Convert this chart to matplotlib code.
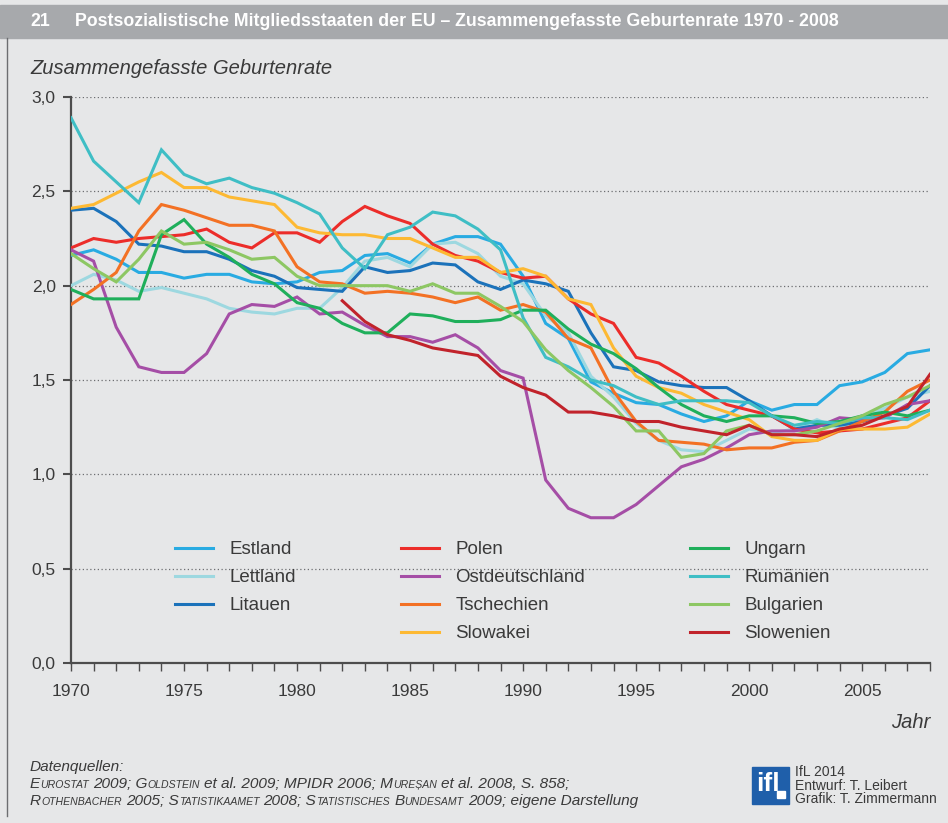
import matplotlib
matplotlib.use('Agg')
import matplotlib.pyplot as plt
import numpy as np
from matplotlib import font_manager
from matplotlib.patches import Rectangle
from matplotlib.lines import Line2D
from matplotlib.ticker import FuncFormatter

# Data: total fertility rate, 1970 - 2008
years = list(range(1970, 2009))
years_si = list(range(1982, 2009))

estland = [2.16, 2.19, 2.14, 2.07, 2.07, 2.04, 2.06, 2.06, 2.02, 2.01,
           2.02, 2.07, 2.08, 2.16, 2.17, 2.12, 2.22, 2.26, 2.26, 2.22,
           2.05, 1.80, 1.72, 1.49, 1.43, 1.38, 1.37, 1.32, 1.28, 1.31,
           1.39, 1.34, 1.37, 1.37, 1.47, 1.49, 1.54, 1.64, 1.66]
lettland = [2.00, 2.06, 2.03, 1.97, 1.99, 1.96, 1.93, 1.88, 1.86, 1.85,
            1.88, 1.88, 1.99, 2.13, 2.15, 2.10, 2.22, 2.23, 2.17, 2.05,
            2.01, 1.84, 1.75, 1.52, 1.41, 1.27, 1.18, 1.13, 1.12, 1.18,
            1.24, 1.22, 1.24, 1.29, 1.24, 1.31, 1.35, 1.41, 1.44]
litauen = [2.40, 2.41, 2.34, 2.22, 2.21, 2.18, 2.18, 2.14, 2.08, 2.05,
           1.99, 1.98, 1.97, 2.10, 2.07, 2.08, 2.12, 2.11, 2.02, 1.98,
           2.03, 2.01, 1.97, 1.75, 1.57, 1.55, 1.49, 1.47, 1.46, 1.46,
           1.39, 1.31, 1.24, 1.26, 1.26, 1.28, 1.31, 1.35, 1.47]
polen = [2.20, 2.25, 2.23, 2.25, 2.26, 2.27, 2.30, 2.23, 2.20, 2.28,
         2.28, 2.23, 2.34, 2.42, 2.37, 2.33, 2.22, 2.16, 2.13, 2.07,
         2.04, 2.05, 1.93, 1.85, 1.80, 1.62, 1.59, 1.52, 1.44, 1.37,
         1.34, 1.31, 1.24, 1.22, 1.23, 1.24, 1.27, 1.30, 1.39]
ostdeutschland = [2.19, 2.13, 1.78, 1.57, 1.54, 1.54, 1.64, 1.85, 1.90, 1.89,
                  1.94, 1.85, 1.86, 1.79, 1.73, 1.73, 1.70, 1.74, 1.67, 1.55,
                  1.51, 0.97, 0.82, 0.77, 0.77, 0.84, 0.94, 1.04, 1.08, 1.14,
                  1.21, 1.23, 1.23, 1.25, 1.30, 1.29, 1.30, 1.37, 1.39]
tschechien = [1.90, 1.98, 2.07, 2.29, 2.43, 2.40, 2.36, 2.32, 2.32, 2.29,
              2.10, 2.02, 2.01, 1.96, 1.97, 1.96, 1.94, 1.91, 1.94, 1.87,
              1.90, 1.86, 1.72, 1.67, 1.44, 1.28, 1.18, 1.17, 1.16, 1.13,
              1.14, 1.14, 1.17, 1.18, 1.23, 1.28, 1.33, 1.44, 1.50]
slowakei = [2.41, 2.43, 2.49, 2.55, 2.60, 2.52, 2.52, 2.47, 2.45, 2.43,
            2.31, 2.28, 2.27, 2.27, 2.25, 2.25, 2.20, 2.15, 2.15, 2.07,
            2.09, 2.05, 1.93, 1.90, 1.67, 1.52, 1.46, 1.43, 1.37, 1.33,
            1.29, 1.20, 1.18, 1.18, 1.24, 1.24, 1.24, 1.25, 1.32]
ungarn = [1.98, 1.93, 1.93, 1.93, 2.27, 2.35, 2.22, 2.15, 2.06, 2.01,
          1.91, 1.88, 1.80, 1.75, 1.75, 1.85, 1.84, 1.81, 1.81, 1.82,
          1.87, 1.87, 1.77, 1.69, 1.64, 1.56, 1.46, 1.37, 1.31, 1.28,
          1.31, 1.31, 1.30, 1.27, 1.28, 1.31, 1.33, 1.31, 1.34]
rumaenien = [2.89, 2.66, 2.55, 2.44, 2.72, 2.59, 2.54, 2.57, 2.52, 2.49,
             2.44, 2.38, 2.20, 2.09, 2.27, 2.31, 2.39, 2.37, 2.30, 2.19,
             1.83, 1.62, 1.57, 1.50, 1.47, 1.41, 1.37, 1.39, 1.39, 1.39,
             1.38, 1.31, 1.26, 1.28, 1.27, 1.30, 1.30, 1.29, 1.34]
bulgarien = [2.17, 2.09, 2.02, 2.14, 2.29, 2.22, 2.23, 2.19, 2.14, 2.15,
             2.05, 2.00, 2.00, 2.00, 2.00, 1.97, 2.01, 1.96, 1.96, 1.89,
             1.81, 1.66, 1.55, 1.46, 1.36, 1.23, 1.23, 1.09, 1.11, 1.23,
             1.26, 1.21, 1.21, 1.23, 1.27, 1.31, 1.37, 1.41, 1.47]
slowenien = [1.92, 1.81, 1.74, 1.71, 1.67, 1.65, 1.63, 1.52, 1.46, 1.42,
             1.33, 1.33, 1.31, 1.28, 1.28, 1.25, 1.23, 1.21, 1.26, 1.21,
             1.21, 1.20, 1.24, 1.26, 1.31, 1.36, 1.53]

labels = ['Estland', 'Lettland', 'Litauen', 'Polen', 'Ostdeutschland', 'Tschechien',
          'Slowakei', 'Ungarn', 'Rumänien', 'Bulgarien', 'Slowenien']
series = [estland, lettland, litauen, polen, ostdeutschland, tschechien,
          slowakei, ungarn, rumaenien, bulgarien, slowenien]
colors = ['#29ABE2', '#9DD8E0', '#1B72BA', '#EC2D2A', '#A54EA6', '#F37124',
          '#FDB933', '#1FAF5B', '#3FBEC5', '#8DC763', '#C1232B']

# Fonts
names = {f.name for f in font_manager.fontManager.ttflist}
narrow = 'Liberation Sans Narrow' if 'Liberation Sans Narrow' in names else 'Liberation Sans'
plt.rcParams['font.family'] = ['Liberation Sans', 'DejaVu Sans']

W, H = 948, 823
bg = '#E6E7E8'
txtc = '#3A3A3A'


def px(x, y):
    return x / W, 1 - y / H


fig = plt.figure(figsize=(W / 100, H / 100), dpi=100, facecolor=bg)

# header band and frame line
fig.patches.append(Rectangle(px(0, 38), 1, 33 / H, transform=fig.transFigure,
                             color='#A7A9AC', zorder=0))
fig.lines.append(Line2D([7 / W, 7 / W], [1 - 816 / H, 1 - 38 / H], transform=fig.transFigure,
                        color='#6D6E71', lw=1.0))
head_fs = 14 if narrow != 'Liberation Sans' else 12.8
fig.text(*px(30, 21), '21', color='white', fontweight='bold', fontsize=head_fs,
         family=[narrow, 'DejaVu Sans'], va='center')
fig.text(*px(75, 21), 'Postsozialistische Mitgliedsstaaten der EU – Zusammengefasste Geburtenrate 1970 - 2008',
         color='white', fontweight='bold', fontsize=head_fs, family=[narrow, 'DejaVu Sans'], va='center')

# axes
ax = fig.add_axes([71 / W, 1 - 663 / H, 859 / W, 566 / H])
ax.set_facecolor(bg)
for lab, ys, c in zip(labels, series, colors):
    xs = years_si if lab == 'Slowenien' else years
    ax.plot(xs, ys, color=c, lw=2.2, label=lab, solid_joinstyle='miter', zorder=3)

ax.set_xlim(1970, 2008)
ax.set_ylim(0, 3.0)
ax.set_yticks(np.arange(0, 3.01, 0.5))
ax.set_xticks(range(1970, 2009, 5))
ax.set_xticks(range(1970, 2009), minor=True)
ax.yaxis.set_major_formatter(FuncFormatter(lambda v, p: f'{v:.1f}'.replace('.', ',')))
for s in ['top', 'right']:
    ax.spines[s].set_visible(False)
for s in ['left', 'bottom']:
    ax.spines[s].set_color('#4D4D4D')
    ax.spines[s].set_linewidth(1.6)
ax.tick_params(axis='y', which='major', length=6, width=1.5, color='#4D4D4D',
               labelsize=12.5, labelcolor=txtc, pad=5)
ax.tick_params(axis='x', which='both', length=6, width=1.0, color='#4D4D4D',
               labelsize=12.5, labelcolor=txtc, pad=9)
ax.grid(axis='y', color='#6D6E71', linestyle=(0, (1, 2)), linewidth=0.9, zorder=1)
ax.set_axisbelow(True)

# legend, 3 columns with an empty slot after Litauen
handles, labs = ax.get_legend_handles_labels()
blank = Line2D([], [], color='none')
handles = handles[:3] + [blank] + handles[3:]
labs = labs[:3] + [''] + labs[3:]
leg = ax.legend(handles, labs, ncol=3, loc='upper left', bbox_to_anchor=(0.121, 0.215),
                frameon=False, fontsize=13.5, handlelength=2.05, handletextpad=0.85,
                columnspacing=5.6, labelspacing=0.58, borderpad=0, borderaxespad=0,
                labelcolor=txtc)

# axis titles
fig.text(*px(30, 68), 'Zusammengefasste Geburtenrate', fontsize=14.5, style='italic',
         color=txtc, va='center')
fig.text(*px(930, 722), 'Jahr', fontsize=14.5, style='italic', color=txtc,
         va='center', ha='right')

# footer sources with small caps
renderer = fig.canvas.get_renderer()
big, small = 11.1, 7.6


def run_width(t, fs):
    probe = fig.text(0, 0, '|' + t + '|', fontsize=fs, style='italic')
    w1 = probe.get_window_extent(renderer).width
    probe.set_text('||')
    w2 = probe.get_window_extent(renderer).width
    probe.remove()
    return w1 - w2


def draw_runs(x, y, runs):
    for t, sm in runs:
        fs = small if sm else big
        lead = len(t) - len(t.lstrip())
        xd = x + (run_width(t[:lead], fs) if lead else 0)
        fig.text(xd / W, 1 - y / H, t.lstrip(), fontsize=fs, style='italic',
                 color=txtc, va='baseline')
        x += run_width(t, fs)


draw_runs(30, 771, [('Datenquellen:', False)])
draw_runs(30, 788, [('E', False), ('UROSTAT', True), (' 2009; G', False), ('OLDSTEIN', True),
                    (' et al. 2009; MPIDR 2006; M', False), ('UREȘAN', True),
                    (' et al. 2008, S. 858;', False)])
draw_runs(30, 805, [('R', False), ('OTHENBACHER', True), (' 2005; S', False),
                    ('TATISTIKAAMET', True), (' 2008; S', False), ('TATISTISCHES', True),
                    (' B', False), ('UNDESAMT', True), (' 2009; eigene Darstellung', False)])

# logo and credits
fig.patches.append(Rectangle(px(752, 804), 37 / W, 37 / H, transform=fig.transFigure,
                             color='#1F5FAA'))
fig.text(*px(768, 784), 'ifl', color='white', fontweight='bold', fontsize=19,
         family=[narrow, 'DejaVu Sans'], ha='center', va='center')
fig.patches.append(Rectangle(px(777, 798), 8 / W, 7 / H, transform=fig.transFigure,
                             color='white'))
for i, t in enumerate(['IfL 2014', 'Entwurf: T. Leibert', 'Grafik: T. Zimmermann']):
    fig.text(*px(795, 772 + i * 13.5), t, fontsize=10, color=txtc, va='center')

fig.savefig('out.png', dpi=100, facecolor=bg)
